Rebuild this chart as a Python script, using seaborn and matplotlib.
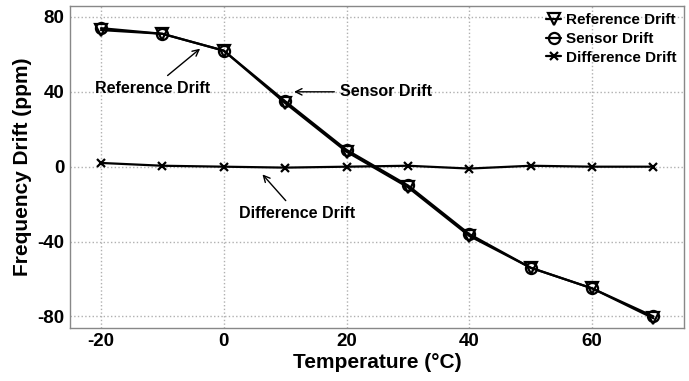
import matplotlib
matplotlib.use("Agg")
import matplotlib.pyplot as plt
import seaborn as sns
import pandas as pd

temperature = [-20, -10, 0, 10, 20, 30, 40, 50, 60, 70]
reference_drift = [73, 71, 62, 34, 8, -11, -37, -54, -65, -81]
sensor_drift = [74, 71, 62, 35, 9, -10, -36, -54, -65, -80]
difference_drift = [2, 0.5, 0, -0.5, 0, 0.5, -1, 0.5, 0, 0]
x_ticks = [-20, 0, 20, 40, 60]
y_ticks = [-80, -40, 0, 40, 80]

sns.set_theme(style="white")
plt.rcParams['font.family'] = ['Liberation Sans', 'DejaVu Sans']
plt.rcParams['font.weight'] = 'bold'
plt.rcParams['axes.unicode_minus'] = False
plt.rcParams['text.color'] = 'black'
plt.rcParams['axes.labelcolor'] = 'black'
plt.rcParams['xtick.color'] = 'black'
plt.rcParams['ytick.color'] = 'black'

df = pd.DataFrame({"T": temperature, "ref": reference_drift,
                   "sen": sensor_drift, "diff": difference_drift})

fig, ax = plt.subplots(figsize=(6.89, 3.81), dpi=100)
fig.subplots_adjust(left=0.102, right=0.993, top=0.985, bottom=0.14)

sns.lineplot(data=df, x="T", y="ref", ax=ax, color="black", lw=1.6,
             marker="v", markersize=9, markerfacecolor="none",
             markeredgecolor="black", markeredgewidth=1.6, label="Reference Drift")
sns.lineplot(data=df, x="T", y="sen", ax=ax, color="black", lw=1.6,
             marker="o", markersize=8, markerfacecolor="none",
             markeredgecolor="black", markeredgewidth=1.6, label="Sensor Drift")
sns.lineplot(data=df, x="T", y="diff", ax=ax, color="black", lw=1.6,
             marker="x", markersize=6, markeredgecolor="black",
             markeredgewidth=1.6, label="Difference Drift")

ax.set_xlim(-25, 75)
ax.set_ylim(-86, 86)
ax.set_xticks(x_ticks)
ax.set_yticks(y_ticks)
ax.tick_params(labelsize=13.5, length=0, pad=4, colors='black')
for lab in ax.get_xticklabels() + ax.get_yticklabels():
    lab.set_fontweight('bold')
ax.set_xlabel("Temperature (°C)", fontsize=15, fontweight='bold', labelpad=2, color='black')
ax.set_ylabel("Frequency Drift (ppm)", fontsize=15, fontweight='bold', labelpad=4, color='black')
ax.grid(True, linestyle=':', color='#b0b0b0', lw=1.0)
for s in ax.spines.values():
    s.set_color('#888888')
    s.set_linewidth(1.0)

leg = ax.legend(loc='upper right', frameon=False, fontsize=11, handlelength=1.0,
                handletextpad=0.3, labelspacing=0.3, borderaxespad=0.1)
for t in leg.get_texts():
    t.set_fontweight('bold')
    t.set_color('black')

ax.annotate("Reference Drift", xy=(-3.5, 64), xytext=(-21, 42),
            fontsize=11.5, fontweight='bold', va='center', color='black',
            arrowprops=dict(arrowstyle='->', color='black', lw=1.0))
ax.annotate("Sensor Drift", xy=(11, 40), xytext=(19, 40),
            fontsize=11.5, fontweight='bold', va='center', color='black',
            arrowprops=dict(arrowstyle='->', color='black', lw=1.0))
ax.annotate("Difference Drift", xy=(6, -3), xytext=(2.5, -25),
            fontsize=11.5, fontweight='bold', va='center', color='black',
            arrowprops=dict(arrowstyle='->', color='black', lw=1.0))

fig.savefig("out.png", dpi=100)
